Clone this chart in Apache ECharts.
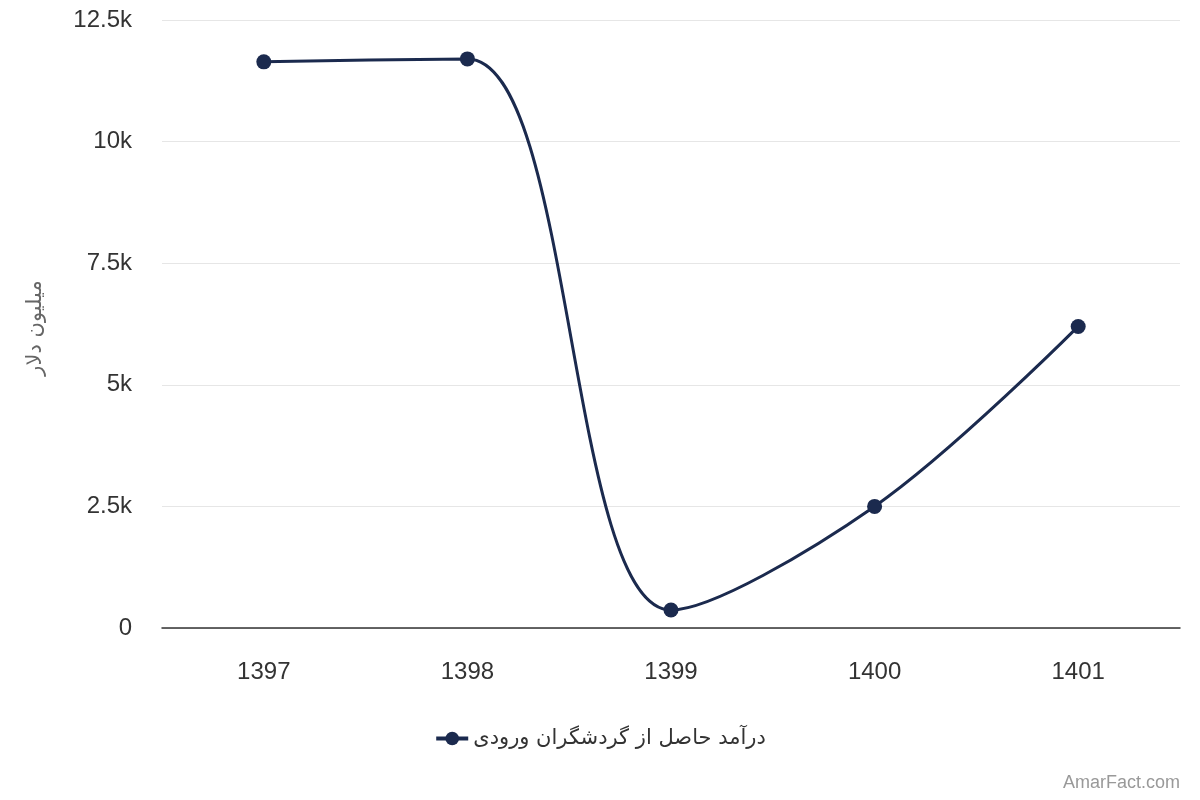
<!DOCTYPE html>
<html>
<head>
<meta charset="utf-8">
<script src="https://cdn.jsdelivr.net/npm/echarts@6/dist/echarts.min.js"></script>
<style>
html, body { margin: 0; padding: 0; background: #fff; }
#chart { width: 1200px; height: 800px; }
</style>
</head>
<body>
<div id="chart"></div>
<script>
var years = ["1397", "1398", "1399", "1400", "1401"];
var revenue = [11640, 11700, 370, 2500, 6200];
var seriesName = "درآمد حاصل از گردشگران ورودی";
var yTitle = "میلیون دلار";

var chart = echarts.init(document.getElementById("chart"));

chart.setOption({
    animation: false,
    textStyle: { fontFamily: "'Liberation Sans', Arial, sans-serif" },
    grid: { left: 162, right: 20, top: 20, bottom: 172 },
    graphic: [{
        type: "text",
        right: 20,
        bottom: 8,
        style: { text: "AmarFact.com", fill: "#999", fontSize: 18, fontFamily: "'Liberation Sans', sans-serif" }
    }],
    legend: {
        bottom: 46,
        left: "center",
        itemWidth: 32,
        itemHeight: 17,
        itemGap: 10,
        textStyle: { fontSize: 21, color: "#333", fontFamily: "'DejaVu Sans', 'Noto Sans', sans-serif" },
        data: [{ name: seriesName, itemStyle: { color: "#1b2a4e" }, lineStyle: { width: 4 } }]
    },
    xAxis: {
        type: "category",
        data: years,
        boundaryGap: true,
        axisLine: { lineStyle: { color: "#333", width: 1.5 } },
        axisTick: { show: false },
        axisLabel: { color: "#333", fontSize: 24, margin: 32 }
    },
    yAxis: {
        type: "value",
        min: 0,
        max: 12500,
        interval: 2500,
        name: yTitle,
        nameLocation: "middle",
        nameGap: 116,
        nameTextStyle: { color: "#666", fontSize: 21, fontFamily: "'DejaVu Sans', sans-serif", padding: [0, 8, 0, 0] },
        axisLine: { show: false },
        axisTick: { show: false },
        splitLine: { lineStyle: { color: "#e6e6e6", width: 1 } },
        axisLabel: {
            color: "#333",
            fontSize: 24,
            margin: 30,
            formatter: function (v) { return v === 0 ? "0" : (v / 1000) + "k"; }
        }
    },
    series: [{
        name: seriesName,
        type: "line",
        data: revenue,
        smooth: 0.35,
        symbol: "circle",
        symbolSize: 15,
        lineStyle: { color: "#1b2a4e", width: 3 },
        itemStyle: { color: "#1b2a4e" }
    }]
});
</script>
</body>
</html>
